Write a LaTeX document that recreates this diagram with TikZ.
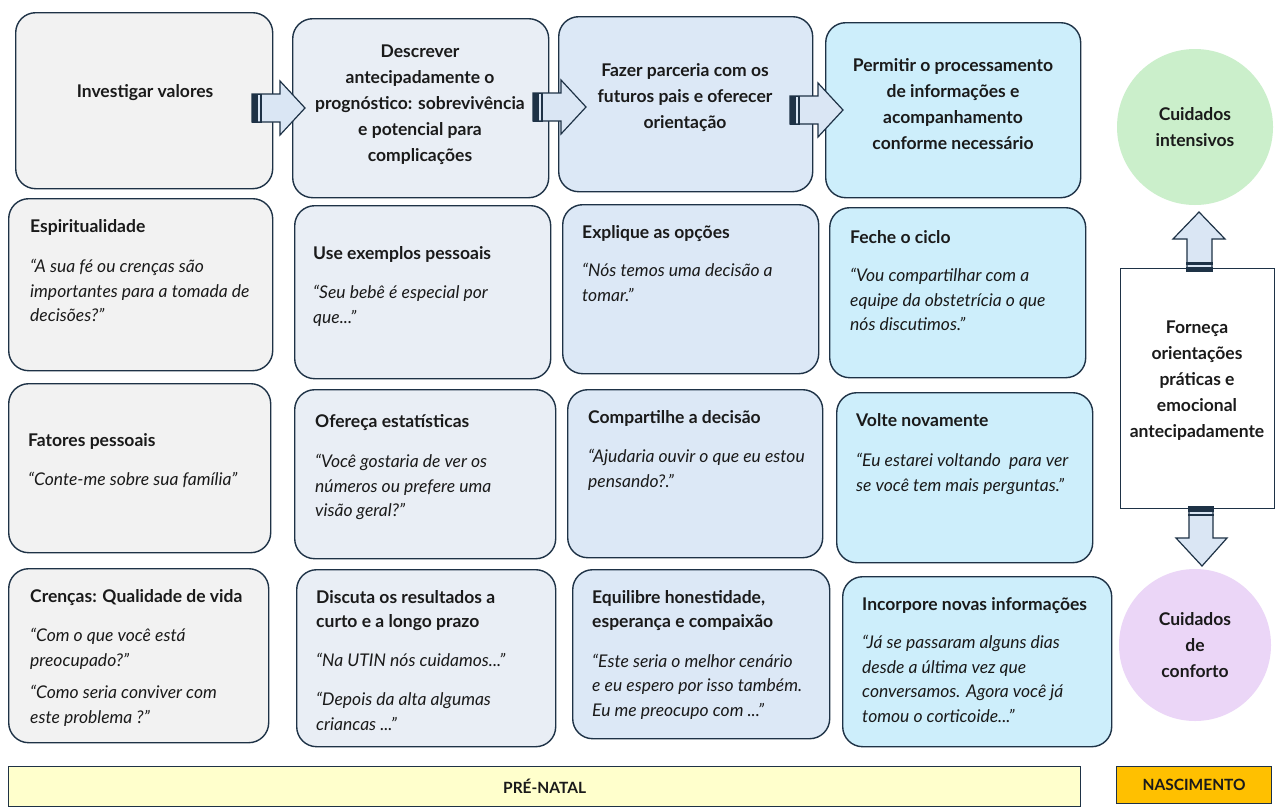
\documentclass[tikz,border=0pt]{standalone}
\usepackage{fontspec}
\setmainfont{Lato}
\definecolor{edge}{HTML}{1E3246}
\definecolor{ink}{HTML}{1A1A1A}
\definecolor{cA}{HTML}{F2F2F2}
\definecolor{cB}{HTML}{E9EEF5}
\definecolor{cC}{HTML}{DCE8F6}
\definecolor{cD}{HTML}{CDEEFB}
\definecolor{arr}{HTML}{DAE6F4}
\definecolor{grn}{HTML}{CBEFCB}
\definecolor{prp}{HTML}{EBD6F7}
\definecolor{ylw}{HTML}{FFFFCC}
\definecolor{org}{HTML}{FFC000}
\newcommand\cardbox[6]{\node[card, fill=#6, minimum width={(#4-#2)*1pt}, minimum height={(#5-#3)*1pt}] (#1) at (#2,#3) {};}
\newcommand\rarrow[2]{%
  \draw[blockarrow] (#1,#2-14) -- (#1+28,#2-14) -- (#1+28,#2-27) -- (#1+53,#2) -- (#1+28,#2+27) -- (#1+28,#2+14) -- (#1,#2+14) -- cycle;
  \fill[edge] (#1,#2-14) rectangle (#1+6,#2+14);
  \fill[edge] (#1+7.5,#2-14) rectangle (#1+10,#2+14);
  \draw[edge, line width=1pt] (#1,#2-14) -- (#1+10,#2-14) (#1,#2+14) -- (#1+10,#2+14);}
\begin{document}
\begin{tikzpicture}[x=1pt,y=-1pt,
  card/.style={draw=edge, line width=1.4pt, rounded corners=20pt, anchor=north west, inner sep=0pt},
  head/.style={font=\fontsize{17.5}{26}\selectfont\bfseries, text=ink, align=center, inner sep=0pt},
  body/.style={font=\fontsize{17.5}{24.5}\selectfont, text=ink, align=left, anchor=north west, inner sep=0pt, yshift=17.15pt},
  blockarrow/.style={fill=arr, draw=edge, line width=1.2pt, line join=miter},
  bar/.style={draw=edge, line width=1.2pt, anchor=north west, inner sep=0pt, font=\fontsize{15.5}{18}\selectfont\bfseries, text=ink}]
\useasboundingbox[fill=white] (0,0) rectangle (1276,809);

% top row
\cardbox{b11}{15}{12}{272}{188}{cA}
\cardbox{b12}{292}{18}{548}{197}{cB}
\cardbox{b13}{558}{16}{812}{191}{cC}
\cardbox{b14}{825}{22}{1080}{197}{cD}
\node[head] (h11) at (145,93) {Investigar valores};
\node[head] (h12) at (420,105) {Descrever\\antecipadamente o\\prognóstico: sobrevivência\\e potencial para\\complicações};
\node[head] (h13) at (685,98) {Fazer parceria com os\\futuros pais e oferecer\\orientação};
\node[head] (h14) at (953,104) {Permitir o processamento\\de informações e\\acompanhamento\\conforme necessário};

\rarrow{252}{108}
\rarrow{533}{107}
\rarrow{790}{110}

% row 2
\cardbox{b21}{8}{198}{272}{370}{cA}
\cardbox{b22}{294}{205}{550}{378}{cB}
\cardbox{b23}{562}{204}{818}{373}{cC}
\cardbox{b24}{829}{207}{1085}{377}{cD}
\node[body] (t21) at (30,232) {\strut\textbf{Espiritualidade}\\[16pt]\textit{“A sua fé ou crenças são}\\\textit{importantes para a tomada de}\\\textit{decisões?”}};
\node[body] (t22) at (313,259) {\strut\textbf{Use exemplos pessoais}\\[15pt]\textit{“Seu bebê é especial por}\\\textit{que...”}};
\node[body] (t23) at (582,238) {\strut\textbf{Explique as opções}\\[14pt]\textit{“Nós temos uma decisão a}\\\textit{tomar.”}};
\node[body] (t24) at (850,243) {\strut\textbf{Feche o ciclo}\\[14pt]\textit{“Vou compartilhar com a}\\\textit{equipe da obstetrícia o que}\\\textit{nós discutimos.”}};

% row 3
\cardbox{b31}{8}{383}{270}{552}{cA}
\cardbox{b32}{294}{389}{555}{558}{cB}
\cardbox{b33}{567}{389}{822}{557}{cC}
\cardbox{b34}{836}{392}{1092}{562}{cD}
\node[body] (t31) at (28,446) {\strut\textbf{Fatores pessoais}\\[15pt]\textit{“Conte-me sobre sua família”}};
\node[body] (t32) at (315,427) {\strut\textbf{Ofereça estatísticas}\\[16pt]\textit{“Você gostaria de ver os}\\\textit{números ou prefere uma}\\\textit{visão geral?”}};
\node[body] (t33) at (588,423) {\strut\textbf{Compartilhe a decisão}\\[15pt]\textit{“Ajudaria ouvir o que eu estou}\\\textit{pensando?.”}};
\node[body] (t34) at (856,426) {\strut\textbf{Volte novamente}\\[16pt]\textit{“Eu estarei voltando\ \ para ver}\\\textit{se você tem mais perguntas.”}};

% row 4
\cardbox{b41}{8}{568}{268}{742}{cA}
\cardbox{b42}{296}{569}{555}{746}{cB}
\cardbox{b43}{572}{569}{829}{738}{cC}
\cardbox{b44}{842}{576}{1111}{746}{cD}
\node[body] (t41) at (30,602) {\strut\textbf{Crenças: Qualidade de vida}\\[15pt]\textit{“Com o que você está}\\\textit{preocupado?”}\\[8pt]\textit{“Como seria conviver com}\\\textit{este problema ?”}};
\node[body] (t42) at (316,603) {\strut\textbf{Discuta os resultados a}\\\textbf{curto e a longo prazo}\\[14.5pt]\textit{“Na UTIN nós cuidamos...”}\\[14.5pt]\textit{“Depois da alta algumas}\\\textit{criancas ...”}};
\node[body] (t43) at (592,603) {\strut\textbf{Equilibre honestidade,}\\\textbf{esperança e compaixão}\\[15pt]\textit{“Este seria o melhor cenário}\\\textit{e eu espero por isso também.}\\\textit{Eu me preocupo com ...”}};
\node[body] (t44) at (862,610) {\strut\textbf{Incorpore novas informações}\\[14pt]\textit{“Já se passaram alguns dias}\\\textit{desde a última vez que}\\\textit{conversamos. Agora você já}\\\textit{tomou o corticoide...”}};

% right column
\node[circle, fill=grn, minimum size=156pt, inner sep=0pt, head] (ci) at (1195,127) {Cuidados\\intensivos};
\node[draw=edge, line width=1.2pt, fill=white, anchor=north west, minimum width=154pt, minimum height=240pt, inner sep=0pt] (fr) at (1120,268) {};
\node[head] (ft) at (1197,381) {Forneça\\orientações\\práticas e\\emocional\\antecipadamente};
\node[circle, fill=prp, minimum size=152pt, inner sep=0pt, head] (cc) at (1195,645) {Cuidados\\de\\conforto};

% up arrow
\draw[blockarrow] (1187,271) -- (1187,239) -- (1173,239) -- (1199,212) -- (1225,239) -- (1212,239) -- (1212,271) -- cycle;
\fill[edge] (1186,262) rectangle (1213,265);
\fill[edge] (1186,267) rectangle (1213,272);
% down arrow
\draw[blockarrow] (1189,507) -- (1213,507) -- (1213,538) -- (1227,538) -- (1202,566) -- (1176,538) -- (1189,538) -- cycle;
\fill[edge] (1188,506) rectangle (1214,512);
\fill[edge] (1188,513.5) rectangle (1214,516);

% bottom bars
\node[bar, fill=ylw, minimum width=1072pt, minimum height=40pt] (pn) at (8,766) {PRÉ-NATAL};
\node[bar, fill=org, minimum width=155pt, minimum height=37pt] (na) at (1116,766) {NASCIMENTO};
\end{tikzpicture}
\end{document}
